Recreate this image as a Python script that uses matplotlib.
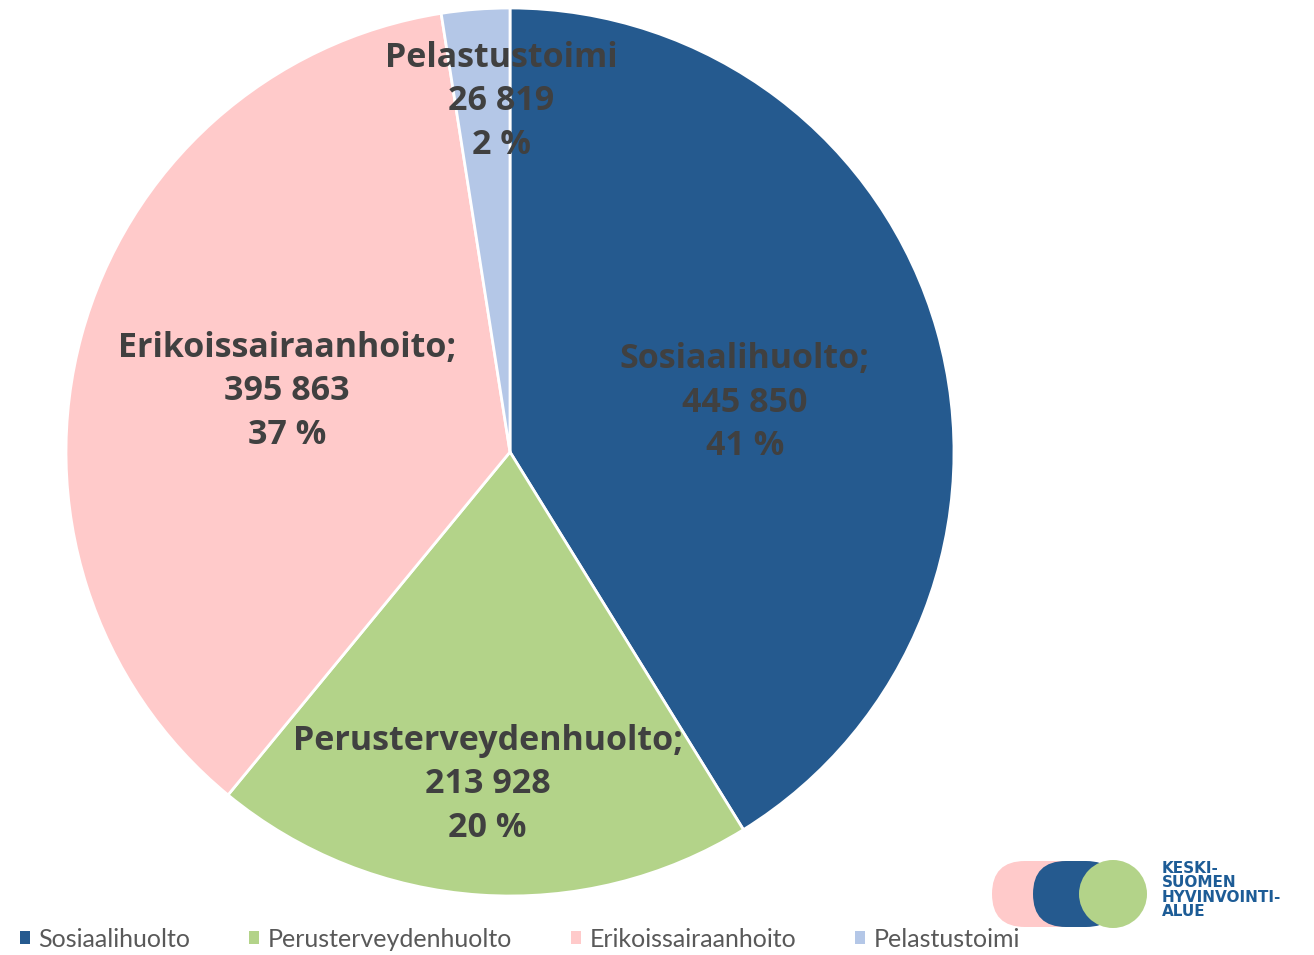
import numpy as np
import matplotlib.pyplot as plt
from matplotlib.patches import Patch, FancyBboxPatch, Circle

categories = ['Sosiaalihuolto', 'Perusterveydenhuolto', 'Erikoissairaanhoito', 'Pelastustoimi']
values = [445850, 213928, 395863, 26819]
colors = ['#255a8f', '#b3d389', '#ffcaca', '#b4c7e7']
label_r = [0.54, 0.75, 0.52, 0.79]
label_dang = [-4, 0, 0, -3]

W, H = 1314, 955
fig = plt.figure(figsize=(W / 100, H / 100), dpi=100)

# pie centre ~ (510, 452) px, radius ~ 444 px
cx, cy, R = 510, 452, 444
ax = fig.add_axes([(cx - R) / W, (H - cy - R) / H, 2 * R / W, 2 * R / H])
wedges, _ = ax.pie(values, colors=colors, startangle=90, counterclock=False,
                   wedgeprops=dict(edgecolor='white', linewidth=2))
ax.set_xlim(-1, 1)
ax.set_ylim(-1, 1)
ax.set_aspect('equal')

total = sum(values)
for i, (w, name, v) in enumerate(zip(wedges, categories, values)):
    mid = np.deg2rad((w.theta1 + w.theta2) / 2 + label_dang[i])
    x, y = label_r[i] * np.cos(mid), label_r[i] * np.sin(mid)
    num = f'{v:,}'.replace(',', ' ')
    pct = f'{round(100 * v / total):.0f} %'
    sep = '' if name == 'Pelastustoimi' else ';'
    ax.text(x, y, f'{name}{sep}\n{num}\n{pct}', ha='center', va='center',
            fontsize=24.5, fontweight='bold', family='Open Sans', color='#404040',
            linespacing=1.36)

# legend
handles = [Patch(facecolor=c, edgecolor='none') for c in colors]
fig.legend(handles, categories, loc='lower left', bbox_to_anchor=(-0.002, -0.019),
           ncol=4, frameon=False, handlelength=0.4, handleheight=0.4,
           handletextpad=0.35, columnspacing=2.35,
           prop=dict(family='Lato', size=18), labelcolor='#595959')

# logo
lax = fig.add_axes([0, 0, 1, 1], zorder=5)
lax.set_xlim(0, W)
lax.set_ylim(H, 0)
lax.axis('off')
lax.patch.set_alpha(0)
r = 33
ly = 894
lax.add_patch(FancyBboxPatch((992 + r, ly), 40, 0, boxstyle=f'round,pad={r}',
                             facecolor='#ffcaca', edgecolor='none'))
lax.add_patch(FancyBboxPatch((1033 + r, ly), 20, 0, boxstyle=f'round,pad={r}',
                             facecolor='#255a8f', edgecolor='none'))
lax.add_patch(Circle((1113, ly), 34, facecolor='#b3d389', edgecolor='none'))
lax.text(1162, 861, 'KESKI-\nSUOMEN\nHYVINVOINTI-\nALUE',
         ha='left', va='top', fontsize=11, fontweight='bold', family='DejaVu Sans',
         color='#1d5c96', linespacing=0.95)

fig.savefig('out.png', dpi=100)
